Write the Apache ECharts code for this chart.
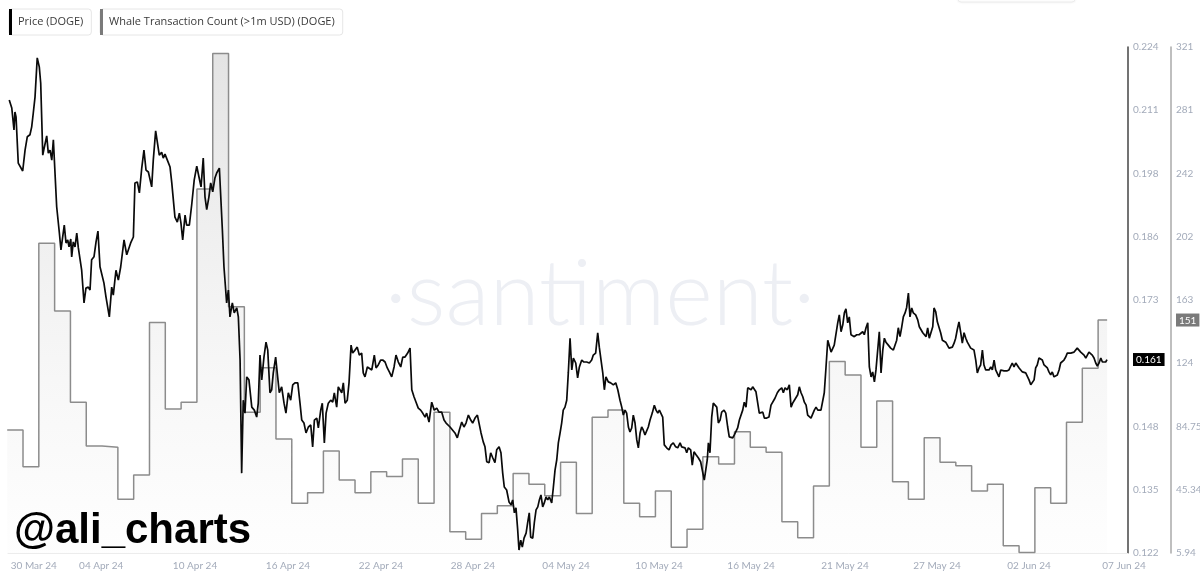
<!DOCTYPE html>
<html>
<head>
<meta charset="utf-8">
<script src="https://cdn.jsdelivr.net/npm/echarts@6/dist/echarts.min.js"></script>
<style>html,body{margin:0;padding:0;background:#fff}#c{width:1200px;height:575px}</style>
</head>
<body>
<div id="c"></div>
<script>
// x values are days since 30 Mar 24 00:00 (UTC-ish)
const seriesNames = ['Price (DOGE)', 'Whale Transaction Count (>1m USD) (DOGE)'];
const dateLabels = ['30 Mar 24','04 Apr 24','10 Apr 24','16 Apr 24','22 Apr 24','28 Apr 24','04 May 24','10 May 24','16 May 24','21 May 24','27 May 24','02 Jun 24','07 Jun 24'];
const dateTickDays = [0.68,4.95,10.88,16.76,22.64,28.46,34.35,40.23,46.05,51.99,57.81,63.63,69.64];
const priceTickLabels = ['0.122','0.135','0.148','0.161','0.173','0.186','0.198','0.211','0.224'];
const whaleTickLabels = ['5.94','45.345','84.75','124','163','202','242','281','321'];
const priceMin = 0.122, priceMax = 0.224, whaleMin = 5.94, whaleMax = 321;

const priceT = [-0.87,-0.71,-0.57,-0.51,-0.44,-0.30,-0.19,-0.02,0.13,0.27,0.44,0.55,0.65,0.76,0.90,1.03,1.12,1.25,1.35,1.50,1.60,1.71,1.82,1.92,2.02,2.13,2.30,2.40,2.51,2.61,2.72,2.83,2.91,3.02,3.08,3.18,3.29,3.40,3.50,3.61,3.71,3.86,3.98,4.13,4.24,4.34,4.49,4.62,4.74,4.87,4.98,5.12,5.25,5.33,5.46,5.61,5.71,5.88,6.03,6.18,6.39,6.56,6.66,6.81,6.98,7.08,7.23,7.36,7.51,7.65,7.78,7.93,8.03,8.14,8.24,8.39,8.49,8.62,8.77,8.87,8.98,9.13,9.30,9.41,9.51,9.61,9.76,9.89,9.99,10.10,10.25,10.35,10.52,10.67,10.83,10.99,11.13,11.26,11.40,11.51,11.62,11.76,11.87,12.00,12.14,12.25,12.42,12.50,12.61,12.71,12.88,12.99,13.09,13.24,13.36,13.52,13.62,13.73,13.83,13.93,14.04,14.15,14.29,14.47,14.63,14.78,14.88,14.99,15.10,15.24,15.37,15.48,15.62,15.73,15.83,15.98,16.08,16.21,16.36,16.51,16.63,16.78,16.93,17.06,17.20,17.38,17.52,17.63,17.77,17.90,18.05,18.20,18.32,18.43,18.58,18.68,18.83,18.93,19.06,19.17,19.31,19.46,19.59,19.69,19.84,19.94,20.05,20.16,20.26,20.37,20.51,20.62,20.75,20.85,21.00,21.14,21.27,21.42,21.52,21.63,21.78,21.90,22.06,22.22,22.33,22.47,22.62,22.75,22.90,23.04,23.17,23.32,23.47,23.59,23.74,23.89,24.02,24.16,24.33,24.48,24.59,24.73,24.86,25.00,25.15,25.28,25.43,25.53,25.68,25.85,26.01,26.17,26.31,26.48,26.63,26.76,26.86,27.01,27.12,27.32,27.47,27.60,27.75,27.89,28.02,28.17,28.32,28.44,28.59,28.74,28.86,28.97,29.11,29.22,29.33,29.48,29.58,29.71,29.85,29.96,30.11,30.23,30.34,30.44,30.59,30.74,30.87,30.97,31.08,31.18,31.29,31.37,31.48,31.58,31.69,31.82,31.92,32.02,32.11,32.24,32.34,32.45,32.56,32.66,32.76,32.87,32.97,33.08,33.19,33.29,33.44,33.54,33.65,33.76,33.86,33.97,34.07,34.17,34.28,34.39,34.49,34.60,34.71,34.81,34.96,35.08,35.19,35.34,35.48,35.65,35.82,35.97,36.07,36.22,36.35,36.45,36.56,36.67,36.77,36.87,37.02,37.17,37.34,37.49,37.62,37.76,37.87,37.97,38.08,38.18,38.29,38.39,38.50,38.60,38.71,38.82,38.92,39.03,39.13,39.23,39.34,39.45,39.55,39.66,39.80,39.93,40.04,40.15,40.25,40.35,40.46,40.56,40.71,40.86,40.99,41.13,41.28,41.41,41.56,41.66,41.76,41.87,41.98,42.08,42.23,42.33,42.44,42.57,42.71,42.86,42.97,43.09,43.20,43.28,43.35,43.45,43.56,43.66,43.77,43.88,43.98,44.09,44.19,44.34,44.45,44.57,44.67,44.78,44.89,44.99,45.10,45.20,45.31,45.41,45.52,45.62,45.73,45.84,45.94,46.05,46.15,46.25,46.36,46.47,46.57,46.68,46.79,46.89,47.04,47.18,47.31,47.42,47.56,47.71,47.84,47.99,48.09,48.20,48.34,48.47,48.58,48.68,48.79,48.89,49.00,49.10,49.21,49.32,49.42,49.53,49.63,49.73,49.84,49.95,50.05,50.16,50.27,50.37,50.47,50.58,50.68,50.79,50.90,51.00,51.11,51.21,51.31,51.42,51.53,51.63,51.74,51.85,51.95,52.05,52.16,52.26,52.37,52.48,52.58,52.73,52.88,53.00,53.11,53.21,53.32,53.43,53.53,53.64,53.74,53.85,53.95,54.06,54.16,54.27,54.38,54.48,54.58,54.73,54.88,55.05,55.15,55.26,55.36,55.47,55.58,55.68,55.79,55.89,56.00,56.10,56.21,56.31,56.46,56.59,56.69,56.80,56.91,57.01,57.12,57.22,57.32,57.43,57.54,57.62,57.73,57.83,57.94,58.04,58.15,58.25,58.36,58.46,58.57,58.68,58.78,58.89,58.99,59.09,59.20,59.31,59.41,59.52,59.63,59.73,59.83,59.94,60.04,60.15,60.26,60.36,60.47,60.57,60.68,60.78,60.89,60.99,61.10,61.21,61.31,61.42,61.52,61.62,61.73,61.84,61.94,62.05,62.22,62.36,62.47,62.57,62.68,62.79,62.89,63.00,63.10,63.21,63.31,63.42,63.52,63.63,63.74,63.84,63.95,64.05,64.15,64.26,64.37,64.47,64.58,64.69,64.79,64.89,65.00,65.10,65.21,65.32,65.42,65.53,65.63,65.74,65.84,65.95,66.05,66.16,66.27,66.37,66.48,66.58,66.68,66.79,66.90,67.00,67.11,67.22,67.32,67.42,67.53,67.63,67.74,67.85,67.95,68.06,68.17,68.27,68.37,68.48,68.56];

const priceV = [0.2133,0.2117,0.2073,0.2109,0.2099,0.2006,0.2008,0.1990,0.2032,0.2059,0.2063,0.2079,0.2107,0.2139,0.2218,0.2200,0.2167,0.2022,0.2038,0.2061,0.2026,0.2032,0.2012,0.2053,0.2057,0.1918,0.1865,0.1831,0.1833,0.1881,0.1845,0.1851,0.1837,0.1853,0.1817,0.1847,0.1837,0.1865,0.1835,0.1835,0.1790,0.1724,0.1754,0.1756,0.1750,0.1811,0.1817,0.1847,0.1869,0.1797,0.1795,0.1764,0.1736,0.1736,0.1696,0.1756,0.1740,0.1790,0.1770,0.1797,0.1851,0.1821,0.1817,0.1845,0.1857,0.1966,0.1968,0.1946,0.1996,0.2032,0.1992,0.1988,0.1986,0.1958,0.2012,0.2071,0.2067,0.2022,0.2028,0.2016,0.2024,0.2012,0.1998,0.1966,0.1966,0.1897,0.1887,0.1905,0.1885,0.1851,0.1901,0.1881,0.1881,0.1922,0.1972,0.2000,0.1978,0.1958,0.2016,0.1938,0.1912,0.1938,0.1966,0.1948,0.1976,0.1986,0.1996,0.1998,0.1871,0.1797,0.1724,0.1750,0.1696,0.1724,0.1704,0.1714,0.1696,0.1609,0.1381,0.1528,0.1502,0.1575,0.1569,0.1514,0.1508,0.1494,0.1522,0.1619,0.1569,0.1615,0.1645,0.1629,0.1543,0.1549,0.1583,0.1615,0.1583,0.1543,0.1555,0.1522,0.1502,0.1543,0.1528,0.1559,0.1563,0.1563,0.1522,0.1488,0.1482,0.1462,0.1474,0.1478,0.1434,0.1488,0.1492,0.1472,0.1508,0.1522,0.1442,0.1502,0.1522,0.1528,0.1524,0.1543,0.1514,0.1555,0.1559,0.1543,0.1563,0.1522,0.1528,0.1563,0.1639,0.1623,0.1629,0.1635,0.1619,0.1623,0.1583,0.1575,0.1595,0.1593,0.1589,0.1619,0.1593,0.1599,0.1609,0.1609,0.1605,0.1593,0.1585,0.1575,0.1595,0.1619,0.1605,0.1595,0.1615,0.1615,0.1623,0.1633,0.1549,0.1535,0.1524,0.1512,0.1508,0.1502,0.1494,0.1502,0.1484,0.1524,0.1508,0.1512,0.1504,0.1504,0.1488,0.1482,0.1484,0.1474,0.1472,0.1462,0.1452,0.1468,0.1484,0.1474,0.1482,0.1498,0.1488,0.1482,0.1492,0.1498,0.1494,0.1462,0.1444,0.1434,0.1404,0.1402,0.1422,0.1412,0.1402,0.1428,0.1434,0.1422,0.1381,0.1353,0.1347,0.1323,0.1317,0.1327,0.1301,0.1311,0.1266,0.1226,0.1246,0.1232,0.1250,0.1260,0.1281,0.1301,0.1252,0.1250,0.1281,0.1307,0.1313,0.1327,0.1337,0.1313,0.1321,0.1333,0.1327,0.1333,0.1321,0.1351,0.1387,0.1408,0.1442,0.1462,0.1482,0.1508,0.1514,0.1528,0.1583,0.1653,0.1589,0.1613,0.1603,0.1573,0.1595,0.1609,0.1605,0.1605,0.1603,0.1609,0.1619,0.1623,0.1664,0.1635,0.1609,0.1583,0.1549,0.1575,0.1565,0.1563,0.1559,0.1563,0.1549,0.1528,0.1514,0.1498,0.1508,0.1502,0.1474,0.1464,0.1472,0.1498,0.1482,0.1448,0.1432,0.1462,0.1474,0.1468,0.1458,0.1454,0.1474,0.1488,0.1502,0.1518,0.1508,0.1502,0.1508,0.1512,0.1494,0.1438,0.1432,0.1428,0.1438,0.1442,0.1434,0.1432,0.1442,0.1434,0.1438,0.1432,0.1422,0.1432,0.1428,0.1397,0.1424,0.1418,0.1412,0.1404,0.1402,0.1367,0.1363,0.1408,0.1442,0.1422,0.1494,0.1522,0.1524,0.1514,0.1482,0.1488,0.1504,0.1508,0.1502,0.1474,0.1454,0.1458,0.1452,0.1458,0.1454,0.1472,0.1488,0.1492,0.1508,0.1524,0.1514,0.1553,0.1553,0.1549,0.1555,0.1553,0.1545,0.1543,0.1502,0.1498,0.1504,0.1492,0.1492,0.1494,0.1518,0.1522,0.1532,0.1543,0.1549,0.1553,0.1543,0.1553,0.1549,0.1559,0.1514,0.1522,0.1528,0.1528,0.1539,0.1555,0.1543,0.1535,0.1524,0.1518,0.1498,0.1498,0.1492,0.1488,0.1508,0.1514,0.1508,0.1504,0.1508,0.1508,0.1543,0.1595,0.1649,0.1653,0.1625,0.1625,0.1639,0.1643,0.1684,0.1700,0.1666,0.1680,0.1704,0.1712,0.1684,0.1696,0.1660,0.1660,0.1656,0.1660,0.1660,0.1664,0.1666,0.1660,0.1674,0.1684,0.1595,0.1575,0.1585,0.1565,0.1589,0.1593,0.1666,0.1583,0.1629,0.1653,0.1645,0.1639,0.1633,0.1629,0.1633,0.1649,0.1674,0.1656,0.1676,0.1696,0.1704,0.1715,0.1744,0.1696,0.1714,0.1704,0.1700,0.1690,0.1676,0.1670,0.1664,0.1666,0.1656,0.1674,0.1653,0.1653,0.1676,0.1714,0.1706,0.1686,0.1684,0.1664,0.1649,0.1645,0.1645,0.1645,0.1633,0.1629,0.1635,0.1643,0.1653,0.1670,0.1686,0.1664,0.1643,0.1664,0.1653,0.1645,0.1643,0.1633,0.1635,0.1629,0.1609,0.1583,0.1593,0.1599,0.1629,0.1599,0.1589,0.1593,0.1589,0.1595,0.1589,0.1609,0.1589,0.1585,0.1575,0.1589,0.1585,0.1587,0.1587,0.1589,0.1593,0.1603,0.1595,0.1603,0.1599,0.1593,0.1589,0.1585,0.1583,0.1583,0.1585,0.1569,0.1559,0.1559,0.1569,0.1593,0.1599,0.1613,0.1615,0.1609,0.1599,0.1603,0.1593,0.1585,0.1579,0.1585,0.1575,0.1575,0.1579,0.1589,0.1603,0.1607,0.1609,0.1615,0.1623,0.1621,0.1623,0.1621,0.1625,0.1623,0.1633,0.1629,0.1625,0.1625,0.1619,0.1613,0.1619,0.1625,0.1629,0.1619,0.1613,0.1603,0.1597,0.1603,0.1613,0.1605,0.1607,0.1605,0.1610];

// daily whale transaction counts; entry i covers day (i-1) .. i
const whaleV = [82.5,59.7,198.8,156.6,99.8,72.6,71.8,39.4,54.5,149.4,95.6,99.8,232.6,317,159.3,93.5,121.3,76.9,36.9,43.5,69.5,51.4,43.5,56.6,53.5,64.5,36.9,93.5,19.2,14.5,30.6,35.4,55.5,48.7,41.6,62.4,30.6,90.4,95.0,36.9,28.5,44.5,9.5,20.7,65.9,61.4,81.5,71.8,68.6,25.4,15.5,47.7,125.1,116.8,71.8,100.6,50.3,39.4,77.7,62.4,60.3,44.5,48.7,10.5,6.2,46.6,36.9,87.3,120.9,151];
const whaleEndDay = 68.57;

const priceData = priceT.map((t, i) => [t, priceV[i]]);
const whaleData = whaleV.map((v, i) => [i - 1, v]);
whaleData.push([whaleEndDay, whaleV[whaleV.length - 1]]);

const tickVals = (lo, hi, n) => Array.from({length: n}, (_, i) => lo + i * (hi - lo) / (n - 1));
const priceTicks = tickVals(priceMin, priceMax, priceTickLabels.length);
const whaleTicks = tickVals(whaleMin, whaleMax, whaleTickLabels.length);
const pick = (vals, labels, v) => { let b = 0; vals.forEach((x, i) => { if (Math.abs(x - v) < Math.abs(vals[b] - v)) b = i; }); return labels[b]; };

const axisFont = { fontFamily: 'Lato', fontSize: 10, color: '#a3abba' };
const lastPrice = priceV[priceV.length - 1];
const lastWhale = whaleV[whaleV.length - 1];

const chart = echarts.init(document.getElementById('c'), null, { renderer: 'canvas' });
chart.setOption({
  animation: false,
  backgroundColor: '#fff',
  grid: { left: 8, right: 72, top: 47, bottom: 22, containLabel: false, outerBoundsMode: 'none' },
  legend: [
    { data: [seriesNames[0]], left: 9, top: 9, icon: 'rect', itemWidth: 3, itemHeight: 26, padding: [0, 8, 0, 0],
      borderColor: '#e6e6e6', borderWidth: 1, borderRadius: 3, selectedMode: false,
      textStyle: { fontFamily: 'Open Sans', fontSize: 11, color: '#3a3a3a', padding: [0, 0, 0, 1] } },
    { data: [seriesNames[1]], left: 100, top: 9, icon: 'rect', itemWidth: 3, itemHeight: 26, padding: [0, 8, 0, 0],
      borderColor: '#e6e6e6', borderWidth: 1, borderRadius: 3, selectedMode: false,
      textStyle: { fontFamily: 'Open Sans', fontSize: 11, color: '#3a3a3a', padding: [0, 0, 0, 1] } }
  ],
  xAxis: {
    type: 'value', min: -0.949, max: 69.89,
    splitLine: { show: false }, axisTick: { show: false },
    axisLine: { show: true, onZero: false, lineStyle: { color: '#ececec', width: 1 } },
    axisLabel: Object.assign({ customValues: dateTickDays, margin: 8,
      formatter: v => pick(dateTickDays, dateLabels, v) }, axisFont)
  },
  yAxis: [
    { type: 'value', position: 'right', min: priceMin, max: priceMax, offset: 0,
      splitLine: { show: false }, axisTick: { show: false },
      axisLine: { show: true, onZero: false, lineStyle: { color: '#444', width: 1.5 } },
      axisLabel: Object.assign({ customValues: priceTicks, margin: 5,
        formatter: v => pick(priceTicks, priceTickLabels, v) }, axisFont),
      axisPointer: { show: true, status: 'show', value: lastPrice, triggerTooltip: false,
        lineStyle: { opacity: 0 },
        label: { show: true, formatter: () => lastPrice.toFixed(3), backgroundColor: '#000', color: '#fff',
          fontFamily: 'Lato', fontSize: 10, padding: [2, 3, 1, 3], margin: 5, borderRadius: 0 } } },
    { type: 'value', position: 'right', min: whaleMin, max: whaleMax, offset: 43,
      splitLine: { show: false }, axisTick: { show: false },
      axisLine: { show: true, onZero: false, lineStyle: { color: '#aaa', width: 1.5 } },
      axisLabel: Object.assign({ customValues: whaleTicks, margin: 5,
        formatter: v => pick(whaleTicks, whaleTickLabels, v) }, axisFont),
      axisPointer: { show: true, status: 'show', value: lastWhale, triggerTooltip: false,
        lineStyle: { opacity: 0 },
        label: { show: true, formatter: () => String(lastWhale), backgroundColor: '#7a7a7a', color: '#fff',
          fontFamily: 'Lato', fontSize: 10, padding: [2, 3, 1, 3], margin: 5, borderRadius: 0 } } }
  ],
  graphic: [
    { type: 'rect', z: 1, silent: true, shape: { x: 958, y: -10, width: 117, height: 12, r: 3 },
      style: { fill: '#fff', stroke: '#ececec', lineWidth: 1, shadowBlur: 3, shadowColor: 'rgba(0,0,0,0.06)' } },
    { type: 'text', z: -10, x: 600, y: 341, silent: true,
      style: { text: '\u00B7santiment\u00B7', font: '300 91px Lato', fill: '#edeff4', textAlign: 'center', textVerticalAlign: 'bottom' } },
    { type: 'text', z: 100, x: 14, y: 552, silent: true,
      style: { text: '@ali_charts', font: 'bold 42px "Liberation Sans"', fill: '#000', textAlign: 'left', textVerticalAlign: 'bottom' } }
  ],
  series: [
    { name: seriesNames[1], type: 'line', yAxisIndex: 1, step: 'end', data: whaleData, showSymbol: false,
      itemStyle: { color: '#7a7a7a' },
      lineStyle: { color: '#8c8c8c', width: 1.5 },
      areaStyle: { color: new echarts.graphic.LinearGradient(0, 0, 0, 1, [
        { offset: 0, color: '#d8d8d8' }, { offset: 1, color: 'rgba(252,252,252,0.6)' }]) },
      z: 2 },
    { name: seriesNames[0], type: 'line', yAxisIndex: 0, data: priceData, showSymbol: false,
      itemStyle: { color: '#000' },
      lineStyle: { color: '#0a0a0a', width: 1.7 }, z: 3 }
  ]
});
</script>
</body>
</html>
